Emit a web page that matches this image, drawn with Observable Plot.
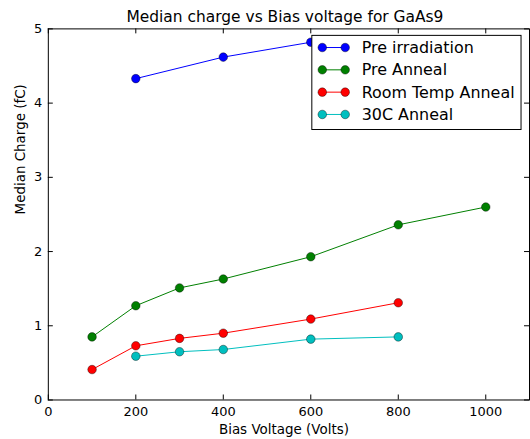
<!DOCTYPE html>
<html>
<head>
<meta charset="utf-8">
<script src="https://cdn.jsdelivr.net/npm/d3@7"></script>
<script src="https://cdn.jsdelivr.net/npm/@observablehq/plot@0.6"></script>
<style>
  html, body { margin: 0; padding: 0; background: #fff; }
  #chart { width: 530px; height: 439px; overflow: hidden; }
</style>
</head>
<body>
<div id="chart"></div>
<script>
// ---- data ----
const seriesNames = ["Pre irradiation", "Pre Anneal", "Room Temp Anneal", "30C Anneal"];
const seriesColors = ["#0000ff", "#008000", "#ff0000", "#00bfbf"];

const preIrradiationV = [200, 400, 600];
const preIrradiationQ = [4.33, 4.62, 4.82];

const preAnnealV = [100, 200, 300, 400, 600, 800, 1000];
const preAnnealQ = [0.85, 1.27, 1.51, 1.63, 1.93, 2.36, 2.60];

const roomTempV = [100, 200, 300, 400, 600, 800];
const roomTempQ = [0.41, 0.73, 0.83, 0.90, 1.09, 1.31];

const anneal30CV = [200, 300, 400, 600, 800];
const anneal30CQ = [0.59, 0.65, 0.68, 0.82, 0.85];

const xTicks = [0, 200, 400, 600, 800, 1000];
const yTicks = [0, 1, 2, 3, 4, 5];

const titleText = "Median charge vs Bias voltage for GaAs9";
const xLabel = "Bias Voltage (Volts)";
const yLabel = "Median Charge (fC)";

// ---- table ----
const seriesV = [preIrradiationV, preAnnealV, roomTempV, anneal30CV];
const seriesQ = [preIrradiationQ, preAnnealQ, roomTempQ, anneal30CQ];
const rows = [];
seriesNames.forEach((name, i) => {
  seriesV[i].forEach((v, j) => rows.push({series: name, v, q: seriesQ[i][j]}));
});

const W = 532, H = 439;
const mL = 48, mR = 1, mT = 28.5, mB = 38;
const fw = W - mL - mR, fh = H - mT - mB;
const tick = 5;
const font = "DejaVu Sans, sans-serif";

const plot = Plot.plot({
  width: W, height: H,
  marginLeft: mL, marginRight: mR, marginTop: mT, marginBottom: mB,
  style: {fontFamily: font, fontSize: "13px", color: "#000", background: "#fff"},
  x: {domain: [0, 1100]},
  y: {domain: [0, 5]},
  color: {domain: seriesNames, range: seriesColors},
  marks: [
    // inward tick marks on all four sides
    Plot.ruleX(xTicks, {x: d => d, insetTop: fh - tick, stroke: "#000", strokeWidth: 1}),
    Plot.ruleX(xTicks, {x: d => d, insetBottom: fh - tick, stroke: "#000", strokeWidth: 1}),
    Plot.ruleY(yTicks, {y: d => d, insetRight: fw - tick, stroke: "#000", strokeWidth: 1}),
    Plot.ruleY(yTicks, {y: d => d, insetLeft: fw - tick, stroke: "#000", strokeWidth: 1}),
    Plot.axisX({ticks: xTicks, tickSize: 0, tickPadding: 7, label: null, fontSize: 13, tickFormat: d => String(d)}),
    Plot.axisY({ticks: yTicks, tickSize: 0, tickPadding: 6, label: null, fontSize: 13, tickFormat: d => String(d)}),
    Plot.line(rows, {x: "v", y: "q", z: "series", stroke: "series", strokeWidth: 1}),
    Plot.dot(rows, {x: "v", y: "q", fill: "series", r: 4.3, stroke: "#000", strokeWidth: 0.5, strokeOpacity: 0.8}),
    Plot.frame({stroke: "#000", strokeWidth: 1}),
    Plot.text([titleText], {text: d => d, frameAnchor: "top", dx: -4, dy: -11.5, lineAnchor: "middle", fontSize: 15.5, fill: "#000"}),
    Plot.text([xLabel], {text: d => d, frameAnchor: "bottom", dx: -5, dy: 30, lineAnchor: "middle", fontSize: 13.5, fill: "#000"}),
    Plot.text([yLabel], {text: d => d, frameAnchor: "left", dx: -28, rotate: -90, lineAnchor: "middle", fontSize: 13.5, fill: "#000"})
  ]
});

document.getElementById("chart").appendChild(plot);

// ---- legend drawn into the SVG ----
const svg = d3.select(plot);
const lg = svg.append("g").attr("font-family", font).attr("font-size", 16).attr("text-anchor", "start");
const boxX = 313, boxY = 35.5, boxW = 210, rowH = 22.4, firstRow = 47.7;
const boxH = 94.5;
lg.append("rect").attr("x", boxX).attr("y", boxY).attr("width", boxW).attr("height", boxH)
  .attr("fill", "#fff").attr("stroke", "#000").attr("stroke-width", 1);
seriesNames.forEach((name, i) => {
  const cy = firstRow + i * rowH;
  const g = lg.append("g");
  g.append("line").attr("x1", 323.5).attr("x2", 346.5).attr("y1", cy).attr("y2", cy)
    .attr("stroke", seriesColors[i]).attr("stroke-width", 1);
  [323.5, 346.5].forEach(cx => g.append("circle").attr("cx", cx).attr("cy", cy).attr("r", 4.3)
    .attr("fill", seriesColors[i]).attr("stroke", "#000").attr("stroke-width", 0.5).attr("stroke-opacity", 0.8));
  g.append("text").attr("x", 363).attr("y", cy).attr("dy", "0.35em").attr("fill", "#000").attr("text-anchor", "start").text(name);
});
</script>
</body>
</html>
